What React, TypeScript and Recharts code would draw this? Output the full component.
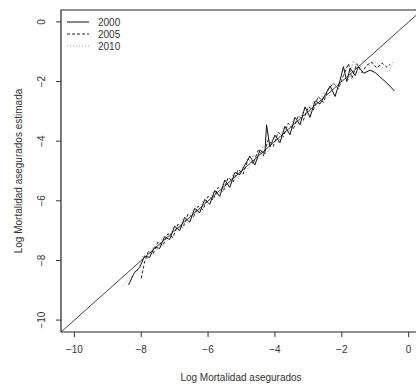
import { LineChart, Line, XAxis, YAxis, ReferenceArea, ReferenceLine, Legend, Label } from "recharts";

// log mortality of insured lives (x) vs estimated (y), one curve per year
const x2000 = [-8.38, -8.2, -8.05, -7.9, -7.75, -7.6, -7.45, -7.3, -7.15, -7.0, -6.85, -6.7, -6.55, -6.4, -6.25, -6.1, -5.95, -5.8, -5.65, -5.5, -5.35, -5.2, -5.05, -4.9, -4.75, -4.6, -4.45, -4.3, -4.25, -4.15, -4.0, -3.85, -3.7, -3.55, -3.4, -3.25, -3.1, -2.95, -2.8, -2.65, -2.5, -2.35, -2.2, -2.05, -1.95, -1.85, -1.75, -1.6, -1.5, -1.35, -1.15, -1.0, -0.85, -0.65, -0.42];
const y2000 = [-8.82, -8.4, -8.25, -7.85, -7.9, -7.55, -7.6, -7.2, -7.3, -6.85, -7.0, -6.55, -6.72, -6.25, -6.4, -5.95, -6.12, -5.65, -5.85, -5.3, -5.55, -5.05, -5.12, -4.8, -4.5, -4.8, -4.3, -4.42, -3.45, -4.2, -3.8, -4.05, -3.5, -3.78, -3.2, -3.45, -2.85, -3.2, -2.65, -2.75, -2.45, -2.15, -2.5, -1.95, -1.5, -2.0, -1.55, -1.8, -1.5, -1.72, -1.62, -1.7, -1.85, -2.05, -2.32];

const x2005 = [-8.0, -7.9, -7.78, -7.65, -7.5, -7.35, -7.2, -7.05, -6.9, -6.75, -6.6, -6.45, -6.3, -6.15, -6.0, -5.85, -5.7, -5.55, -5.4, -5.25, -5.1, -4.95, -4.8, -4.65, -4.5, -4.35, -4.2, -4.05, -3.9, -3.75, -3.6, -3.45, -3.3, -3.15, -3.0, -2.85, -2.7, -2.55, -2.4, -2.25, -2.1, -1.95, -1.8, -1.7, -1.55, -1.4, -1.25, -1.1, -0.95, -0.8, -0.65, -0.55];
const y2005 = [-8.6, -8.05, -7.68, -7.8, -7.38, -7.5, -7.1, -7.23, -6.78, -6.9, -6.45, -6.57, -6.18, -6.3, -5.85, -5.97, -5.55, -5.7, -5.22, -5.37, -4.95, -5.1, -4.6, -4.75, -4.3, -4.5, -3.95, -4.17, -3.7, -3.85, -3.4, -3.6, -3.15, -3.3, -2.85, -2.95, -2.5, -2.7, -2.25, -2.05, -2.25, -1.8, -1.4, -1.9, -1.4, -1.7, -1.45, -1.35, -1.55, -1.38, -1.52, -1.42];

const x2010 = [-8.55, -8.3, -8.1, -7.95, -7.8, -7.65, -7.5, -7.35, -7.2, -7.05, -6.9, -6.75, -6.6, -6.45, -6.3, -6.15, -6.0, -5.85, -5.7, -5.55, -5.4, -5.25, -5.1, -4.95, -4.8, -4.65, -4.5, -4.35, -4.2, -4.05, -3.9, -3.75, -3.6, -3.45, -3.3, -3.15, -3.0, -2.85, -2.7, -2.55, -2.4, -2.25, -2.1, -1.95, -1.8, -1.65, -1.5, -1.35, -1.2, -1.05, -0.9, -0.75, -0.6, -0.5, -0.45];
const y2010 = [-8.85, -8.55, -8.35, -7.85, -7.95, -7.55, -7.65, -7.2, -7.35, -6.9, -7.05, -6.6, -6.75, -6.3, -6.45, -6.0, -6.15, -5.68, -5.85, -5.4, -5.55, -5.08, -5.25, -4.78, -4.95, -4.45, -4.65, -4.15, -4.35, -3.85, -4.05, -3.55, -3.75, -3.25, -3.45, -2.95, -3.15, -2.65, -2.85, -2.35, -2.55, -2.05, -2.25, -1.75, -1.95, -1.3, -1.7, -1.25, -1.5, -1.3, -1.42, -1.55, -1.68, -1.45, -1.3];

const ticks = [-10, -8, -6, -4, -2, 0];
const lo = -10.4;
const hi = 0.4;

const toRows = (xs: number[], ys: number[]) => xs.map((x, i) => ({ x, y: ys[i] }));
const fmt = (v: number) => String(v).replace("-", "\u2212");

const ink = "#333";
const font = "'Liberation Sans', Arial, sans-serif";

const series = [
  { name: "2000", data: toRows(x2000, y2000), color: "#111", dash: undefined as string | undefined },
  { name: "2005", data: toRows(x2005, y2005), color: "#222", dash: "3 2" },
  { name: "2010", data: toRows(x2010, y2010), color: "#999", dash: "1 2" },
];

function YTick(props: any) {
  const { x, y, payload } = props;
  const cx = x - 12;
  return (
    <text x={cx} y={y} transform={`rotate(-90 ${cx} ${y})`} textAnchor="middle" dominantBaseline="central" fontSize={10} fill={ink} fontFamily={font}>
      {fmt(payload.value)}
    </text>
  );
}

function LegendBox() {
  return (
    <div style={{ fontFamily: font, fontSize: 10, color: ink }}>
      {series.map((s) => (
        <div key={s.name} style={{ display: "flex", alignItems: "center", height: 12 }}>
          <svg width={24} height={12}>
            <line x1={1} y1={6} x2={23} y2={6} stroke={s.color} strokeWidth={1} strokeDasharray={s.dash} />
          </svg>
          <span style={{ marginLeft: 8 }}>{s.name}</span>
        </div>
      ))}
    </div>
  );
}

export default function App() {
  return (
    <div style={{ position: "fixed", left: 0, top: 0, width: 416, height: 384, overflow: "hidden", background: "#fff" }}>
      <LineChart width={430} height={384} margin={{ top: 10, right: 8, bottom: 0, left: 0 }}>
        <XAxis
          type="number"
          dataKey="x"
          domain={[lo, hi]}
          ticks={ticks}
          allowDataOverflow
          axisLine={false}
          tickSize={5}
          tickMargin={9}
          height={52}
          stroke={ink}
          tickFormatter={fmt}
          tick={{ fontSize: 10, fill: ink, fontFamily: font }}
        >
          <Label
            content={() => (
              <text x={241} y={377} textAnchor="middle" dominantBaseline="central" fontSize={10} fill={ink} fontFamily={font}>
                Log Mortalidad asegurados
              </text>
            )}
          />
        </XAxis>
        <YAxis
          type="number"
          dataKey="y"
          domain={[lo, hi]}
          ticks={ticks}
          allowDataOverflow
          axisLine={false}
          tickSize={5}
          width={61}
          stroke={ink}
          tick={<YTick />}
        >
          <Label
            content={() => (
              <text x={18} y={171} transform="rotate(-90 18 171)" textAnchor="middle" dominantBaseline="central" fontSize={10} fill={ink} fontFamily={font}>
                Log Mortalidad asegurados estimada
              </text>
            )}
          />
        </YAxis>
        <ReferenceArea x1={lo} x2={hi} y1={lo} y2={hi} fill="none" stroke="#222" strokeWidth={1.2} fillOpacity={0} />
        <ReferenceLine segment={[{ x: lo, y: lo }, { x: hi, y: hi }]} stroke="#444" strokeWidth={1} />
        {series.map((s) => (
          <Line
            key={s.name}
            data={s.data}
            dataKey="y"
            name={s.name}
            stroke={s.color}
            strokeWidth={1}
            strokeDasharray={s.dash}
            dot={false}
            isAnimationActive={false}
          />
        ))}
        <Legend
          layout="horizontal"
          align="center"
          verticalAlign="middle"
          content={() => <LegendBox />}
          wrapperStyle={{ left: 66, top: 16, width: 80, height: 40 }}
        />
      </LineChart>
    </div>
  );
}
